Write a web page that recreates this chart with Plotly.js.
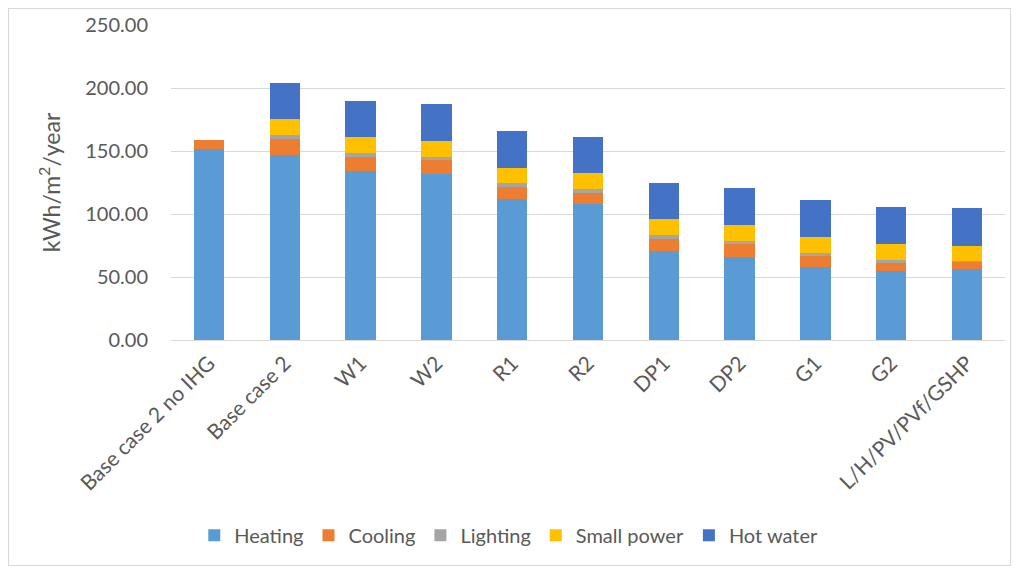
<!DOCTYPE html>
<html>
<head>
<meta charset="utf-8">
<script src="https://cdn.plot.ly/plotly-3.0.1.min.js"></script>
<style>
  html, body { margin: 0; padding: 0; background: #ffffff; }
  #wrap { position: relative; width: 1021px; height: 569px; }
  #chart { width: 1021px; height: 569px; }
  #frame { position: absolute; left: 8px; top: 8px; width: 1003px; height: 558px;
           border: 1px solid #d9d9d9; pointer-events: none; box-sizing: border-box; }
</style>
</head>
<body>
<div id="wrap">
  <div id="chart"></div>
  <div id="frame"></div>
</div>
<script>
const categories = ["Base case 2 no IHG", "Base case 2", "W1", "W2", "R1", "R2", "DP1", "DP2", "G1", "G2", "L/H/PV/PVf/GSHP"];
const heating    = [151.2, 147.2, 134.0, 131.6, 112.0, 108.0, 70.3, 65.8, 57.6, 54.6, 56.2];
const cooling    = [7.4, 12.5, 11.1, 11.1, 9.2, 9.0, 9.5, 10.1, 8.7, 6.4, 5.6];
const lighting   = [0, 2.9, 3.2, 2.4, 3.2, 2.6, 3.2, 2.6, 2.9, 2.7, 1.1];
const smallPower = [0, 12.5, 12.5, 13.0, 12.5, 13.1, 12.8, 12.8, 12.5, 12.4, 12.1];
const hotWater   = [0, 29.2, 29.2, 29.2, 28.9, 28.6, 29.1, 29.1, 29.5, 29.5, 29.5];

const seriesNames  = ["Heating", "Cooling", "Lighting", "Small power", "Hot water"];
const seriesValues = [heating, cooling, lighting, smallPower, hotWater];
const seriesColors = ["#5B9BD5", "#ED7D31", "#A5A5A5", "#FFC000", "#4472C4"];

const textColor = "#595959";
const fontFamily = "Lato, 'Open Sans', sans-serif";

const traces = seriesNames.map((name, i) => ({
  type: "bar",
  name: name,
  x: categories,
  y: seriesValues[i],
  marker: { color: seriesColors[i], line: { width: 0 } },
  hoverinfo: "x+y+name"
}));

const layout = {
  width: 1021,
  height: 569,
  barmode: "stack",
  bargap: 0.6,
  paper_bgcolor: "#ffffff",
  plot_bgcolor: "#ffffff",
  font: { family: fontFamily, color: textColor, size: 18 },
  margin: { l: 171, r: 16, t: 25, b: 229, pad: 0 },
  showlegend: true,
  legend: {
    orientation: "h",
    x: 0.405, xanchor: "center",
    y: -0.62, yanchor: "middle",
    font: { family: fontFamily, size: 20, color: textColor },
    traceorder: "normal",
    itemwidth: 30,
    itemclick: false
  },
  xaxis: {
    type: "category",
    tickangle: -45,
    showgrid: false,
    showline: false,
    ticks: "",
    ticklabelstandoff: 6,
    tickfont: { family: fontFamily, size: 21, color: textColor },
    automargin: false
  },
  yaxis: {
    range: [0, 250],
    dtick: 50,
    tick0: 0,
    tickformat: ".2f",
    showgrid: true,
    gridcolor: "#d9d9d9",
    gridwidth: 1,
    zeroline: true,
    zerolinecolor: "#d9d9d9",
    zerolinewidth: 1,
    showline: false,
    ticks: "",
    ticklabelstandoff: 22,
    tickfont: { family: fontFamily, size: 20, color: textColor },
    title: { text: "kWh/m<sup>2</sup>/year", font: { family: fontFamily, size: 23, color: textColor }, standoff: 18 },
    automargin: false
  }
};

Plotly.newPlot("chart", traces, layout, { displayModeBar: false, staticPlot: true });
</script>
</body>
</html>
